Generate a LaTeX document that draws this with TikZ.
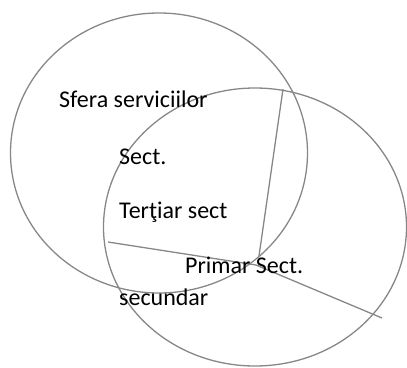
\documentclass[tikz,border=0pt]{standalone}
\usepackage{fontspec}
\setmainfont{Carlito}
\definecolor{ringgray}{RGB}{135,135,135}

\begin{document}
\begin{tikzpicture}[x=1pt,y=-1pt,
		ring/.style={draw=ringgray,line width=1.3pt},
		label/.style={anchor=base west,inner sep=0pt,font=\fontsize{24}{29}\selectfont}]
				\useasboundingbox (0,0) rectangle (407,367);
				\draw[ring] (159,153) ellipse (148.5 and 140);
				\draw[ring] (255,227) ellipse (151.5 and 139);
				\coordinate (top) at (283,89);
				\coordinate (tip) at (259,256);
				\coordinate (left) at (108,242);
				\coordinate (mid) at (256,265);
				\coordinate (right) at (382,318);
				\draw[ring] (top) -- (tip);
				\draw[ring] (left) -- (mid) -- (right);
				\node[label] (sfera) at (59,107) {Sfera serviciilor};
				\node[label] (sect) at (119,164) {Sect.};
				\node[label] (tertiar) at (119,218) {Terţiar sect};
				\node[label] (primar) at (185,273) {Primar Sect.};
				\node[label] (secundar) at (119,305.5) {secundar};
			\end{tikzpicture}
\end{document}
